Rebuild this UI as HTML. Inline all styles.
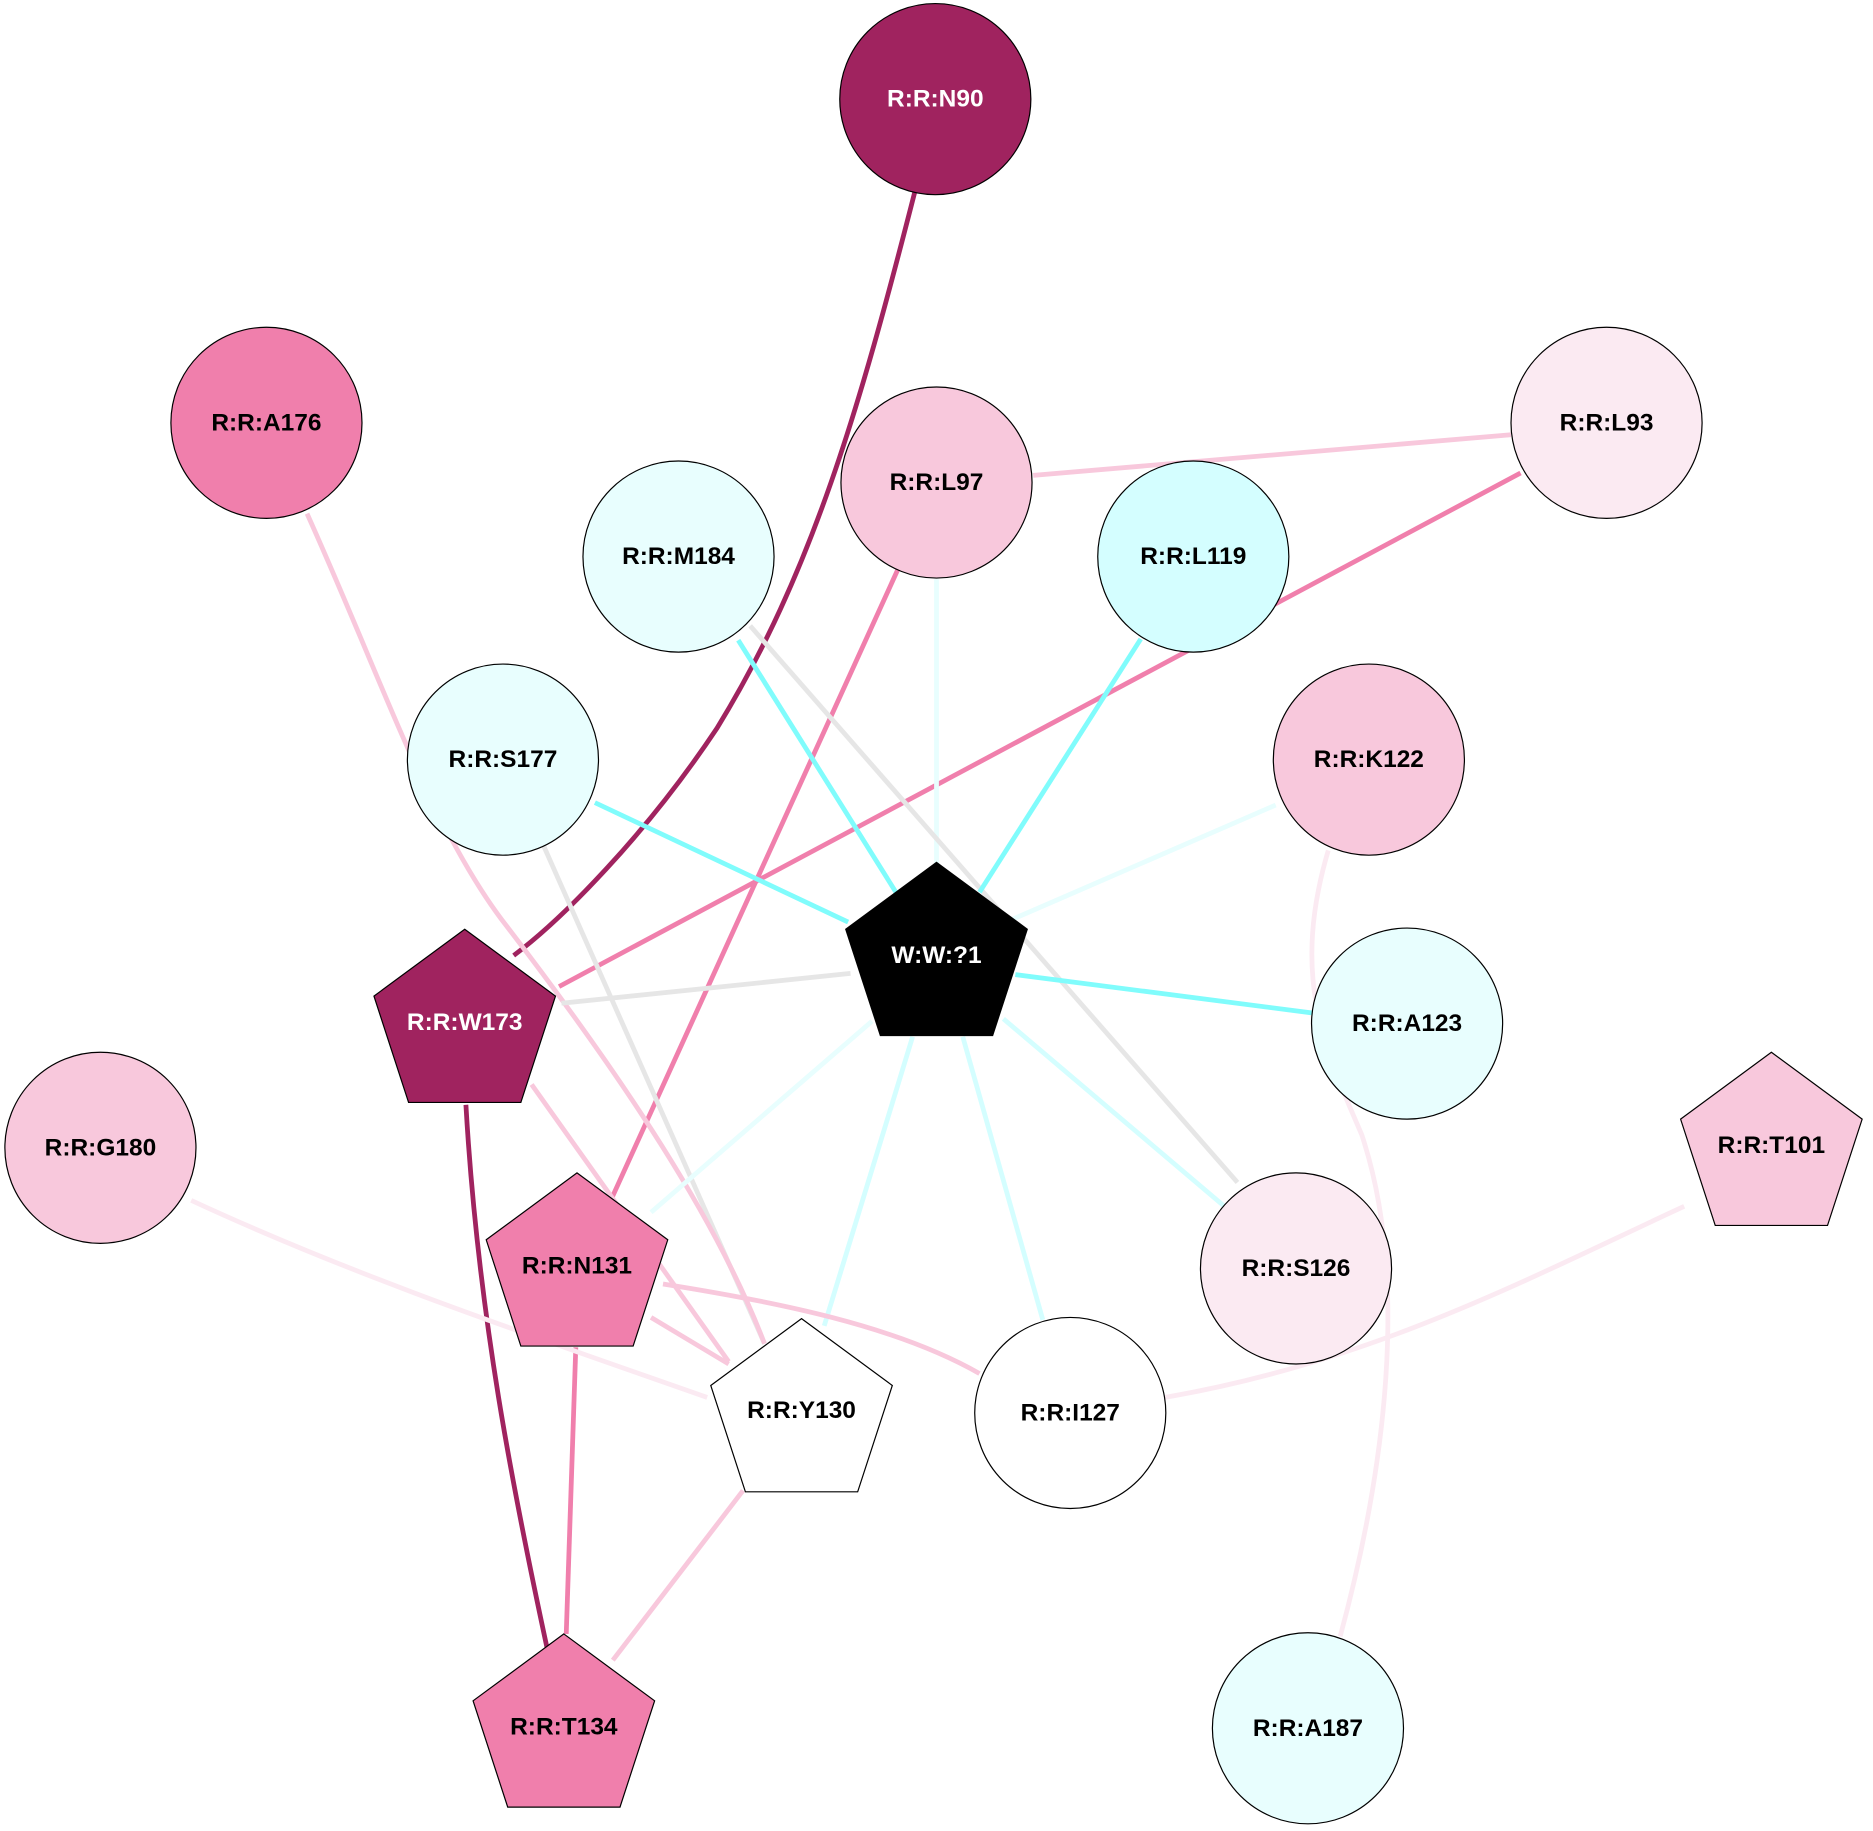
<!DOCTYPE html>
<html><head><meta charset="utf-8"><style>
html,body{margin:0;padding:0;background:#fff;}
svg{display:block;}
text{font-family:"Liberation Sans",Arial,sans-serif;font-weight:bold;font-size:20.5px;text-anchor:middle;dominant-baseline:central;}
</style></head><body>
<svg width="1873" height="1831" viewBox="0 0 1568 1533" xmlns="http://www.w3.org/2000/svg">
<g fill="none" stroke-width="4">
<path d="M766,160 C720,340 680,480 600,610 C540,700 470,770 430,800" stroke="#a0235f"/>
<path d="M390,925 C400,1100 430,1250 458,1380" stroke="#a0235f"/>
<line x1="865" y1="398" x2="1265" y2="364" stroke="#f8c8dc"/>
<line x1="1273" y1="396" x2="468" y2="826" stroke="#f07fac"/>
<line x1="752" y1="476" x2="509" y2="1010" stroke="#f07fac"/>
<line x1="784" y1="485" x2="784" y2="723" stroke="#e8fefe"/>
<line x1="618" y1="536" x2="750" y2="747" stroke="#80fcfc"/>
<line x1="628" y1="524" x2="1036" y2="990" stroke="#e6e6e6"/>
<line x1="955" y1="535" x2="820" y2="747" stroke="#80fcfc"/>
<line x1="498" y1="672" x2="710" y2="772" stroke="#80fcfc"/>
<line x1="455" y1="708" x2="640" y2="1125" stroke="#e6e6e6"/>
<path d="M257,430 C320,570 360,690 420,770 C520,900 600,1020 640,1125" stroke="#f8c8dc"/>
<line x1="1068" y1="674" x2="840" y2="773" stroke="#e8fefe"/>
<path d="M1112,712 C1080,820 1110,880 1140,950 C1180,1070 1160,1230 1122,1370" stroke="#fbeaf2"/>
<line x1="850" y1="816" x2="1098" y2="848" stroke="#80fcfc"/>
<line x1="712" y1="815" x2="470" y2="840" stroke="#e6e6e6"/>
<line x1="730" y1="855" x2="545" y2="1015" stroke="#e8fefe"/>
<line x1="764" y1="868" x2="690" y2="1110" stroke="#d4feff"/>
<line x1="806" y1="868" x2="873" y2="1105" stroke="#d4feff"/>
<line x1="840" y1="853" x2="1025" y2="1010" stroke="#d4feff"/>
<line x1="445" y1="908" x2="610" y2="1140" stroke="#f8c8dc"/>
<line x1="545" y1="1103" x2="610" y2="1142" stroke="#f8c8dc"/>
<path d="M555,1075 C650,1090 750,1110 820,1150" stroke="#f8c8dc"/>
<line x1="482" y1="1128" x2="474" y2="1368" stroke="#f07fac"/>
<line x1="622" y1="1248" x2="513" y2="1390" stroke="#f8c8dc"/>
<path d="M160,1005 C300,1070 450,1120 592,1170" stroke="#fbeaf2"/>
<path d="M975,1170 C1150,1140 1280,1070 1410,1010" stroke="#fbeaf2"/>
</g>
<g stroke="#000" stroke-width="1">
<circle cx="783" cy="83" r="80" fill="#a0235f"/>
<circle cx="223" cy="354" r="80" fill="#f07fac"/>
<circle cx="784" cy="404" r="80" fill="#f8c8dc"/>
<circle cx="1345" cy="354" r="80" fill="#fbeaf2"/>
<circle cx="568" cy="466" r="80" fill="#e8fefe"/>
<circle cx="999" cy="466" r="80" fill="#d4feff"/>
<circle cx="421" cy="636" r="80" fill="#e8fefe"/>
<circle cx="1146" cy="636" r="80" fill="#f8c8dc"/>
<circle cx="1178" cy="857" r="80" fill="#e8fefe"/>
<circle cx="84" cy="961" r="80" fill="#f8c8dc"/>
<circle cx="1085" cy="1062" r="80" fill="#fbeaf2"/>
<circle cx="896" cy="1183" r="80" fill="#ffffff"/>
<circle cx="1095" cy="1447" r="80" fill="#e8fefe"/>
<polygon points="784,722 860,778 831,867 737,867 708,778" fill="#000"/>
<polygon points="389,778 465,834 436,923 342,923 313,834" fill="#a0235f"/>
<polygon points="1483,881 1559,937 1530,1026 1436,1026 1407,937" fill="#f8c8dc"/>
<polygon points="483,982 559,1038 530,1127 436,1127 407,1038" fill="#f07fac"/>
<polygon points="671,1104 747,1160 718,1249 624,1249 595,1160" fill="#ffffff"/>
<polygon points="472,1368 548,1424 519,1513 425,1513 396,1424" fill="#f07fac"/>
</g>
<g fill="#000">
<text x="783" y="83" fill="#fff">R:R:N90</text>
<text x="223" y="354">R:R:A176</text>
<text x="784" y="404">R:R:L97</text>
<text x="1345" y="354">R:R:L93</text>
<text x="568" y="466">R:R:M184</text>
<text x="999" y="466">R:R:L119</text>
<text x="421" y="636">R:R:S177</text>
<text x="1146" y="636">R:R:K122</text>
<text x="1178" y="857">R:R:A123</text>
<text x="84" y="961">R:R:G180</text>
<text x="1085" y="1062">R:R:S126</text>
<text x="896" y="1183">R:R:I127</text>
<text x="1095" y="1447">R:R:A187</text>
<text x="784" y="800" fill="#fff">W:W:?1</text>
<text x="389" y="856" fill="#fff">R:R:W173</text>
<text x="1483" y="959">R:R:T101</text>
<text x="483" y="1060">R:R:N131</text>
<text x="671" y="1181">R:R:Y130</text>
<text x="472" y="1446">R:R:T134</text>
</g>
</svg>
</body></html>
